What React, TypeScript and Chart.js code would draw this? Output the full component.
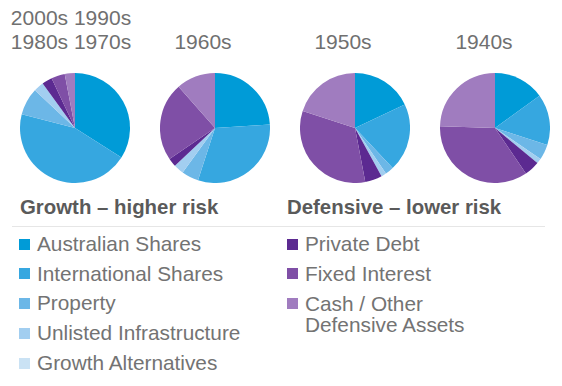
import React, { useEffect, useRef } from "react";
import { Chart, registerables } from "chart.js";

Chart.register(...registerables);

// ---- data ----
const assetClasses = [
  "Australian Shares",
  "International Shares",
  "Property",
  "Unlisted Infrastructure",
  "Growth Alternatives",
  "Private Debt",
  "Fixed Interest",
  "Cash / Other Defensive Assets",
];
const growthLabels = [
  "Australian Shares",
  "International Shares",
  "Property",
  "Unlisted Infrastructure",
  "Growth Alternatives",
];
const defensiveLabels = ["Private Debt", "Fixed Interest", "Cash / Other\nDefensive Assets"];
const sliceColors = [
  "#009bd7",
  "#36a7e0",
  "#6cb7e7",
  "#a2cef0",
  "#cae2f4",
  "#5c2a91",
  "#7f4fa6",
  "#a07cbf",
];
const eraTitles = ["2000s 1990s\n1980s 1970s", "1960s", "1950s", "1940s"];
const alloc1970to2000s = [34, 45, 8, 3, 0, 3, 4, 3];
const alloc1960s = [24, 31, 5, 3, 0, 2.5, 23, 11.5];
const alloc1950s = [18, 20, 2.5, 1.5, 0, 5, 33, 20];
const alloc1940s = [15, 15, 4.5, 1.5, 0, 4.5, 35, 24.5];
const allocations = [alloc1970to2000s, alloc1960s, alloc1950s, alloc1940s];
const groupTitles = ["Growth – higher risk", "Defensive – lower risk"];

// ---- layout ----
const pieCentersX = [75, 215, 355, 495];
const pieCenterY = 128;
const pieRadius = 55;
const titleCentersX = [71, 203, 343, 484];

function Pie({ values, cx }: { values: number[]; cx: number }) {
  const ref = useRef<HTMLCanvasElement>(null);
  useEffect(() => {
    if (!ref.current) return;
    const chart = new Chart(ref.current, {
      type: "pie",
      data: {
        labels: assetClasses,
        datasets: [
          {
            data: values,
            backgroundColor: sliceColors,
            borderWidth: 0,
          },
        ],
      },
      options: {
        responsive: false,
        animation: false,
        layout: { padding: 0 },
        plugins: { legend: { display: false }, tooltip: { enabled: false } },
      },
    });
    return () => chart.destroy();
  }, [values]);
  const size = pieRadius * 2;
  return (
    <canvas
      ref={ref}
      width={size}
      height={size}
      style={{
        position: "absolute",
        left: cx - pieRadius,
        top: pieCenterY - pieRadius,
        width: size,
        height: size,
      }}
    />
  );
}

const font = "'Liberation Sans', Arial, Helvetica, sans-serif";
const legendSize = 20.8;
const groupSize = 20.4;

export default function App() {
  const legendRowY = (i: number) => 244 + i * 29.8;
  return (
    <div
      style={{
        position: "absolute",
        left: 0,
        top: 0,
        width: 562,
        height: 386,
        background: "#ffffff",
        fontFamily: font,
        overflow: "hidden",
      }}
    >
      {eraTitles.map((t, i) => {
        const lines = t.split("\n");
        return lines.map((ln, j) => {
          const capCenter = lines.length === 2 ? (j === 0 ? 17.5 : 41) : 41;
          return (
            <div
              key={i + "-" + j}
              style={{
                position: "absolute",
                left: titleCentersX[i] - 100,
                width: 200,
                top: capCenter - 0.4885 * 21,
                fontSize: 21,
                lineHeight: "21px",
                textAlign: "center",
                color: "#707070",
                whiteSpace: "nowrap",
              }}
            >
              {ln}
            </div>
          );
        });
      })}
      {allocations.map((a, i) => (
        <Pie key={i} values={a} cx={pieCentersX[i]} />
      ))}
      {groupTitles.map((g, i) => (
        <div
          key={g}
          style={{
            position: "absolute",
            left: i === 0 ? 20 : 287,
            top: 207 - 0.4885 * groupSize,
            fontSize: groupSize,
            lineHeight: groupSize + "px",
            fontWeight: 700,
            color: "#5a5a5a",
            whiteSpace: "nowrap",
          }}
        >
          {g}
        </div>
      ))}
      <div
        style={{
          position: "absolute",
          left: 12,
          width: 533,
          top: 226,
          height: 1,
          background: "#e6e6e6",
        }}
      />
      {growthLabels.map((l, i) => (
        <React.Fragment key={l}>
          <div
            style={{
              position: "absolute",
              left: 19,
              top: legendRowY(i) - 5.5,
              width: 11,
              height: 11,
              background: sliceColors[i],
            }}
          />
          <div
            style={{
              position: "absolute",
              left: 37,
              top: legendRowY(i) - 0.4885 * legendSize,
              fontSize: legendSize,
              lineHeight: legendSize + "px",
              color: "#737373",
              whiteSpace: "nowrap",
            }}
          >
            {l}
          </div>
        </React.Fragment>
      ))}
      {defensiveLabels.map((l, i) => (
        <React.Fragment key={l}>
          <div
            style={{
              position: "absolute",
              left: 287,
              top: legendRowY(i) - 5.5,
              width: 11,
              height: 11,
              background: sliceColors[5 + i],
            }}
          />
          <div
            style={{
              position: "absolute",
              left: 305,
              top: legendRowY(i) - 0.4885 * legendSize - 0.5,
              fontSize: legendSize,
              lineHeight: "21px",
              color: "#737373",
              whiteSpace: "pre",
            }}
          >
            {l}
          </div>
        </React.Fragment>
      ))}
    </div>
  );
}
